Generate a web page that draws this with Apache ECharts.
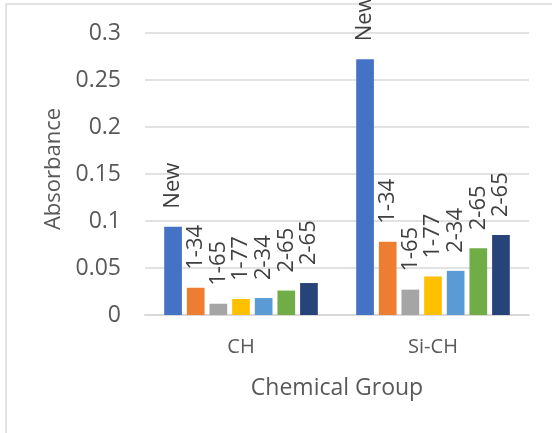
<!DOCTYPE html>
<html>
<head>
<meta charset="utf-8">
<script src="https://cdn.jsdelivr.net/npm/echarts@6/dist/echarts.min.js"></script>
<style>
  html, body { margin: 0; padding: 0; background: #fff; }
  #chart { width: 552px; height: 433px; }
</style>
</head>
<body>
<div id="chart"></div>
<script>
// Chemical groups on the x axis
const categories = ['CH', 'Si-CH'];

// Sample names, one series each
const seriesNames = ['New', '1-34', '1-65', '1-77', '2-34', '2-65', '2-65'];

// Absorbance per sample, ordered as the categories
const valuesNew   = [0.094, 0.272];
const values1_34  = [0.029, 0.078];
const values1_65  = [0.012, 0.027];
const values1_77  = [0.017, 0.041];
const values2_34  = [0.018, 0.047];
const values2_65a = [0.026, 0.071];
const values2_65b = [0.034, 0.085];

const seriesValues = [valuesNew, values1_34, values1_65, values1_77, values2_34, values2_65a, values2_65b];

// Y axis ticks
const yMin = 0, yMax = 0.3, yStep = 0.05;

const colors = ['#4472C4', '#ED7D31', '#A5A5A5', '#FFC000', '#5B9BD5', '#70AD47', '#264478'];
const fontFamily = '"Open Sans", "Noto Sans", sans-serif';

const chart = echarts.init(document.getElementById('chart'), null, { renderer: 'canvas' });

chart.setOption({
  animation: false,
  backgroundColor: '#ffffff',
  color: colors,
  textStyle: { fontFamily: fontFamily },
  graphic: [{
    type: 'rect',
    shape: { x: 6, y: 4, width: 600, height: 500 },
    style: { fill: 'none', stroke: '#d9d9d9', lineWidth: 1.5 },
    silent: true,
    z: -10
  }],
  grid: { left: 145, right: 23, top: 33, bottom: 118 },
  xAxis: {
    type: 'category',
    data: categories,
    name: 'Chemical Group',
    nameLocation: 'middle',
    nameGap: 62,
    nameTextStyle: { fontSize: 23, color: '#595959', fontFamily: fontFamily },
    axisLine: { show: true, lineStyle: { color: '#d9d9d9', width: 2 } },
    axisTick: { show: false },
    axisLabel: { fontSize: 20, color: '#595959', margin: 22, fontFamily: fontFamily }
  },
  yAxis: {
    type: 'value',
    min: yMin,
    max: yMax,
    interval: yStep,
    name: 'Absorbance',
    nameLocation: 'middle',
    nameGap: 80,
    nameTextStyle: { fontSize: 22, color: '#595959', fontFamily: fontFamily, padding: [0, 0, 0, 10] },
    axisLine: { show: false },
    axisTick: { show: false },
    splitLine: { lineStyle: { color: '#d9d9d9', width: 1.5 } },
    axisLabel: {
      fontSize: 23,
      color: '#595959',
      margin: 24,
      fontFamily: fontFamily,
      formatter: v => String(parseFloat(v.toFixed(2)))
    }
  },
  series: seriesNames.map((name, i) => ({
    type: 'bar',
    name: name,
    data: seriesValues[i],
    barCategoryGap: '20%',
    barGap: '28%',
    itemStyle: { color: colors[i] },
    label: {
      show: true,
      position: 'top',
      distance: 18,
      rotate: 90,
      align: 'left',
      verticalAlign: 'middle',
      fontSize: 22,
      color: '#404040',
      fontFamily: fontFamily,
      formatter: () => name
    }
  }))
});
</script>
</body>
</html>
